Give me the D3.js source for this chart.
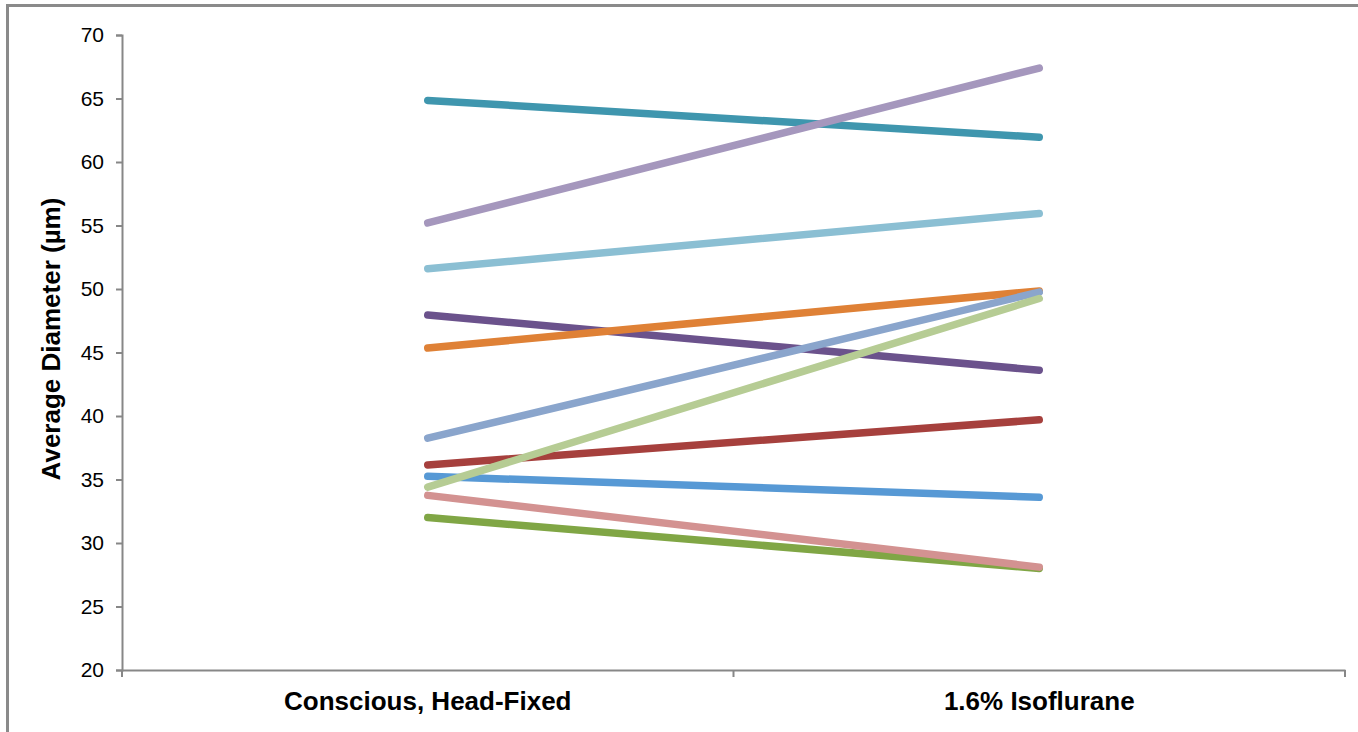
<!DOCTYPE html>
<html lang="en">
<head>
    <meta charset="UTF-8">
    <title>Average Diameter</title>
    <script src="https://d3js.org/d3.v7.min.js"></script>
    <style>
        body { margin: 0; background: #fff; font-family: "Liberation Sans", Arial, sans-serif; }
        .frame { position: absolute; left: 6px; top: 4px; width: 1400px; height: 800px; border-left: 3px solid #8a8a8a; border-top: 3px solid #8a8a8a; }
    </style>
</head>
<body>
    <div class="frame"></div>
    <div id="chart" style="position:absolute;left:0;top:0;"></div>
    <script>
        var categories = ["Conscious, Head-Fixed", "1.6% Isoflurane"];
        // one pair per vessel: [conscious, isoflurane]
        var vessels = ["teal", "lavender", "lightblue", "purple", "orange", "periwinkle", "red", "blue", "lightgreen", "green", "pink"];
        var conscious  = [64.85, 55.2, 51.6, 47.95, 45.35, 38.25, 36.15, 35.25, 34.4, 32.0, 33.75];
        var isoflurane = [61.95, 67.4, 55.95, 43.6, 49.85, 49.75, 39.7, 33.6, 49.25, 28.0, 28.1];
        var colors = ["#3f96ae", "#a597bd", "#8bbfd3", "#6b528c", "#df8136", "#8aa5cc", "#a6403d", "#5799d5", "#b6cc94", "#80a645", "#d39291"];
        var yTicks = [20, 25, 30, 35, 40, 45, 50, 55, 60, 65, 70];

        var width = 1358, height = 732;
        var margin = { top: 35, right: 13, bottom: 62, left: 122 };
        var font = "'Liberation Sans', Arial, sans-serif";

        var svg = d3.select("#chart").append("svg")
            .attr("width", width)
            .attr("height", height);

        var x = d3.scaleBand()
            .domain(categories)
            .range([margin.left, width - margin.right]);

        var y = d3.scaleLinear()
            .domain([20, 70])
            .range([height - margin.bottom, margin.top]);

        // y axis
        var yAxis = svg.append("g")
            .attr("transform", "translate(" + margin.left + ",0)")
            .call(d3.axisLeft(y).tickValues(yTicks).tickSize(6).tickPadding(12));
        yAxis.select(".domain").attr("stroke", "#878787").attr("stroke-width", 2);
        yAxis.selectAll(".tick line").attr("stroke", "#878787").attr("stroke-width", 2);
        yAxis.selectAll("text").attr("font-size", 21).attr("fill", "#000")
            .attr("font-family", font);

        // x axis, ticks between categories
        var xAxis = svg.append("g")
            .attr("transform", "translate(0," + (height - margin.bottom) + ")")
            .call(d3.axisBottom(x).tickSize(0).tickPadding(20));
        xAxis.select(".domain").attr("stroke", "#878787").attr("stroke-width", 2);
        xAxis.selectAll(".tick text")
            .attr("dy", null)
            .attr("y", 40)
            .attr("font-size", 26).attr("font-weight", "bold").attr("fill", "#000")
            .attr("font-family", font);
        var bounds = [x.range()[0]].concat(categories.map(function(c) { return x(c) + x.bandwidth(); }));
        xAxis.selectAll(".sep")
            .data(bounds)
            .enter().append("line")
            .attr("x1", function(d) { return d; })
            .attr("x2", function(d) { return d; })
            .attr("y1", 0)
            .attr("y2", 7)
            .attr("stroke", "#878787")
            .attr("stroke-width", 2);

        // y label
        svg.append("text")
            .attr("transform", "translate(60,339) rotate(-90)")
            .attr("text-anchor", "middle")
            .attr("font-size", 26)
            .attr("font-weight", "bold")
            .attr("font-family", font)
            .text("Average Diameter (µm)");

        var cx = function(c) { return x(c) + x.bandwidth() / 2; };
        var line = d3.line()
            .x(function(d) { return cx(d.cat); })
            .y(function(d) { return y(d.v); });

        var series = vessels.map(function(name, i) {
            return { name: name, color: colors[i], pts: [
                { cat: categories[0], v: conscious[i] },
                { cat: categories[1], v: isoflurane[i] }
            ] };
        });

        svg.selectAll(".vessel")
            .data(series)
            .enter().append("path")
            .attr("class", "vessel")
            .attr("fill", "none")
            .attr("stroke", function(d) { return d.color; })
            .attr("stroke-width", 7.5)
            .attr("stroke-linecap", "round")
            .attr("d", function(d) { return line(d.pts); });
    </script>
</body>
</html>
